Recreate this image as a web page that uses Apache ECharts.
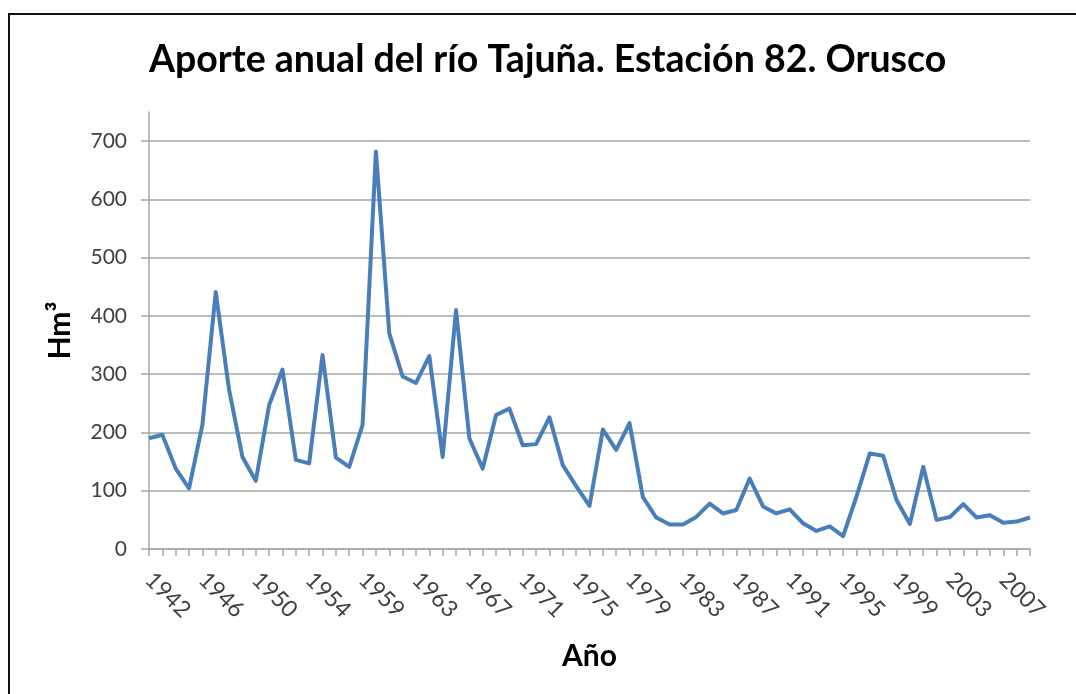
<!DOCTYPE html>
<html>
<head>
<meta charset="utf-8">
<script src="https://cdn.jsdelivr.net/npm/echarts@6/dist/echarts.min.js"></script>
<style>
  html, body { margin: 0; padding: 0; background: #ffffff; }
  #wrap { position: relative; width: 1076px; height: 694px; overflow: hidden; }
  #frame { position: absolute; left: 8px; top: 13px; width: 1100px; height: 720px;
           border-left: 2px solid #111; border-top: 2px solid #111; box-sizing: border-box; }
  #chart { position: absolute; left: 0; top: 0; width: 1076px; height: 694px; }
</style>
</head>
<body>
<div id="wrap">
  <div id="frame"></div>
  <div id="chart"></div>
</div>
<script>
// Hydrological years (one year is absent from the record between 1954 and 1959)
const years = [
  '1942','1943','1944','1945','1946','1947','1948','1949','1950','1951','1952','1953','1954',
  '1955','1956','1957',
  '1959','1960','1961','1962','1963','1964','1965','1966','1967','1968','1969','1970',
  '1971','1972','1973','1974','1975','1976','1977','1978','1979','1980','1981','1982',
  '1983','1984','1985','1986','1987','1988','1989','1990','1991','1992','1993','1994',
  '1995','1996','1997','1998','1999','2000','2001','2002','2003','2004','2005','2006',
  '2007','2008','2009'
];

// Annual inflow, hm³
const aporte = [
  190, 196, 138, 104, 213, 441, 273, 158, 117, 247, 308, 153, 147,
  333, 157, 141,
  213, 682, 370, 296, 285, 331, 158, 410, 190, 138, 230, 241,
  178, 180, 226, 144, 108, 74, 205, 170, 216, 89, 54, 42,
  42, 55, 78, 61, 67, 121, 73, 61, 68, 44, 31, 39,
  22, 90, 164, 160, 84, 43, 141, 50, 55, 77, 54, 58,
  45, 47, 54
];

const titleText = 'Aporte anual del río Tajuña. Estación 82. Orusco';
const yName = 'Hm³';
const xName = 'Año';

const axisGrey = '#a6a6a6';
const labelColor = '#404040';
const font = 'Lato, "Open Sans", sans-serif';

const chart = echarts.init(document.getElementById('chart'), null, { renderer: 'canvas' });
chart.setOption({
  backgroundColor: 'transparent',
  animation: false,
  title: {
    text: titleText,
    left: 144,
    top: 36,
    textStyle: { fontFamily: font, fontWeight: 'bold', fontSize: 37.5, color: '#000' }
  },
  grid: { left: 149, right: 46, top: 112, bottom: 145, containLabel: false },
  xAxis: {
    type: 'category',
    data: years,
    boundaryGap: false,
    name: xName,
    nameLocation: 'middle',
    nameGap: 92,
    nameTextStyle: { fontFamily: font, fontWeight: 'bold', fontSize: 30, color: '#000' },
    axisLine: { lineStyle: { color: axisGrey, width: 1.5 } },
    axisTick: { show: true, interval: 0, length: 7, lineStyle: { color: axisGrey, width: 1.5 } },
    axisLabel: { interval: 3, rotate: -45, margin: 27, fontFamily: font, fontSize: 23, color: labelColor },
    splitLine: { show: false }
  },
  yAxis: {
    type: 'value',
    min: 0,
    max: 750,
    interval: 100,
    name: yName,
    nameLocation: 'middle',
    nameGap: 74,
    nameRotate: 90,
    nameTextStyle: { fontFamily: font, fontWeight: 'bold', fontSize: 30, color: '#000' },
    axisLine: { show: true, lineStyle: { color: axisGrey, width: 1.5 } },
    axisTick: { show: true, length: 8, lineStyle: { color: axisGrey, width: 1.5 } },
    axisLabel: { margin: 22, showMaxLabel: false, fontFamily: font, fontSize: 21, color: labelColor },
    splitLine: { show: true, showMaxLine: false, lineStyle: { color: axisGrey, width: 1.5 } }
  },
  series: [{
    type: 'line',
    data: aporte,
    showSymbol: false,
    symbol: 'none',
    lineStyle: { color: '#4a7ebb', width: 4, join: 'round' },
    itemStyle: { color: '#4a7ebb' }
  }]
});
</script>
</body>
</html>
